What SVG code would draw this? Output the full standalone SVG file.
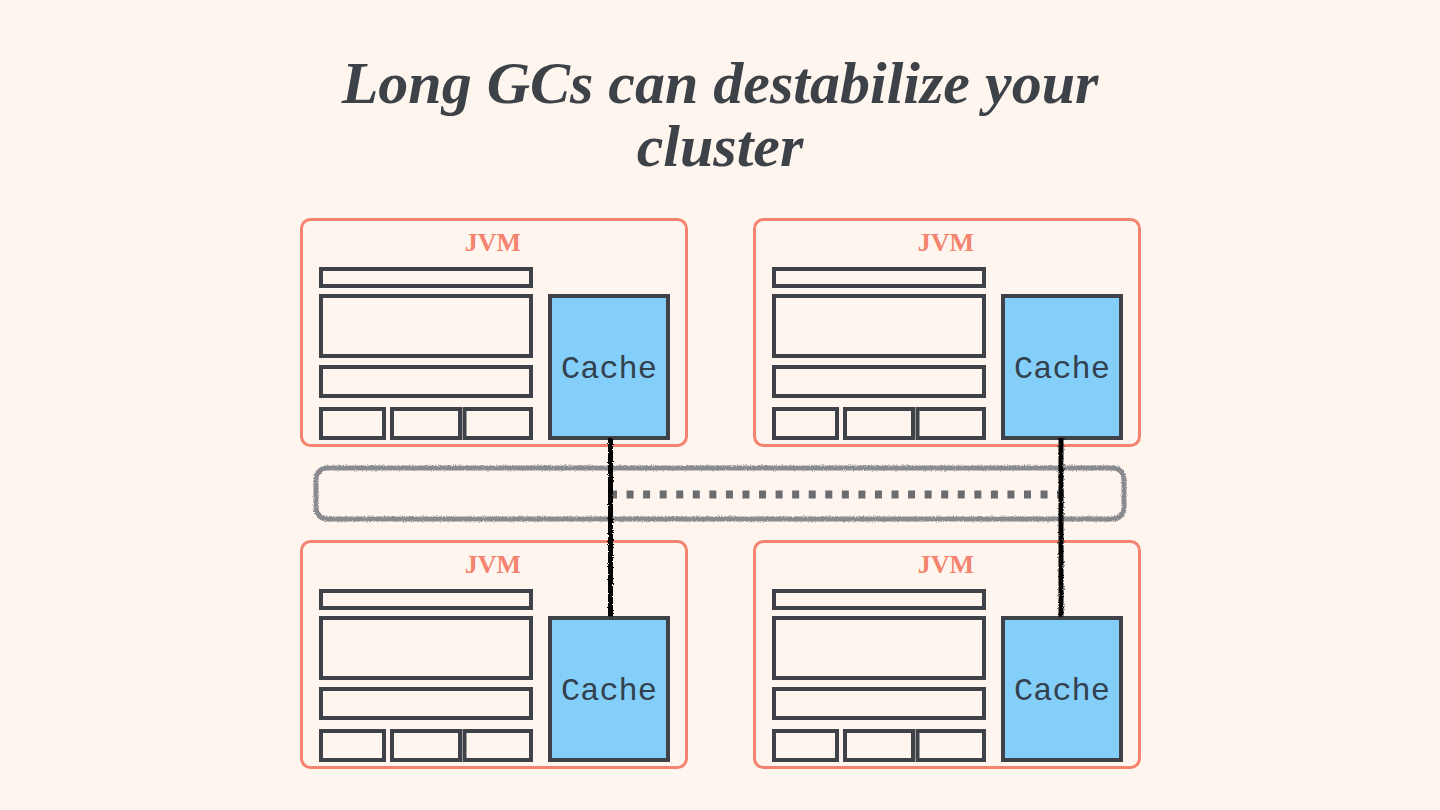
<svg xmlns="http://www.w3.org/2000/svg" width="1440" height="810" viewBox="0 0 1440 810">
<defs>
<filter id="rough" filterUnits="userSpaceOnUse" x="0" y="0" width="1440" height="810">
<feTurbulence type="fractalNoise" baseFrequency="0.9" numOctaves="2" seed="3" result="n"/>
<feDisplacementMap in="SourceGraphic" in2="n" scale="3" xChannelSelector="R" yChannelSelector="G"/>
</filter>
<g id="jvm">
<rect x="301.5" y="219.5" width="385" height="226" rx="9" class="frame"/>
<text x="493" y="251" class="jvm">JVM</text>
<rect x="321" y="269" width="210" height="17" class="part"/>
<rect x="321" y="296" width="210" height="60" class="part"/>
<rect x="321" y="367" width="210" height="29" class="part"/>
<rect x="321" y="409" width="63" height="29" class="part"/>
<rect x="392" y="409" width="68" height="29" class="part"/>
<rect x="464.5" y="409" width="66.5" height="29" class="part"/>
<rect x="550" y="296" width="118" height="142" class="cache"/>
<text x="609" y="378" class="ctext">Cache</text>
</g>
</defs>
<style>
.frame{fill:none;stroke:#F4836F;stroke-width:3}
.part{fill:none;stroke:#3F4249;stroke-width:4}
.cache{fill:#84CFFA;stroke:#3F4249;stroke-width:4}
.jvm{font-family:"Liberation Serif",serif;font-weight:bold;font-size:26px;fill:#F4836F;text-anchor:middle}
.ctext{font-family:"Liberation Mono",monospace;font-size:32px;fill:#33414F;text-anchor:middle}
.title{font-family:"Liberation Serif",serif;font-weight:bold;font-style:italic;font-size:60px;fill:#3D4148;text-anchor:middle}
</style>
<rect width="1440" height="810" fill="#FEF6EE"/>
<g id="title">
<text x="720" y="103" class="title">Long GCs can destabilize your</text>
<text x="720" y="166" class="title">cluster</text>
</g>
<g id="network">
<rect x="316" y="468" width="808" height="51" rx="11" fill="none" stroke="#8A8B8F" stroke-width="5" filter="url(#rough)"/>
</g>
<g id="jvm-top-left"><use href="#jvm"/></g>
<g id="jvm-top-right"><use href="#jvm" transform="translate(453,0)"/></g>
<g id="jvm-bottom-left"><use href="#jvm" transform="translate(0,322)"/></g>
<g id="jvm-bottom-right"><use href="#jvm" transform="translate(453,322)"/></g>
<g id="connectors">
<line x1="610" y1="494.5" x2="1064" y2="494.5" stroke="#6B6C70" stroke-width="8" stroke-dasharray="7 9.56"/>
<line x1="610.5" y1="438" x2="610.5" y2="616" stroke="#000" stroke-width="5" filter="url(#rough)"/>
<line x1="1061" y1="438" x2="1061" y2="616" stroke="#000" stroke-width="5" filter="url(#rough)"/>
</g>
</svg>
